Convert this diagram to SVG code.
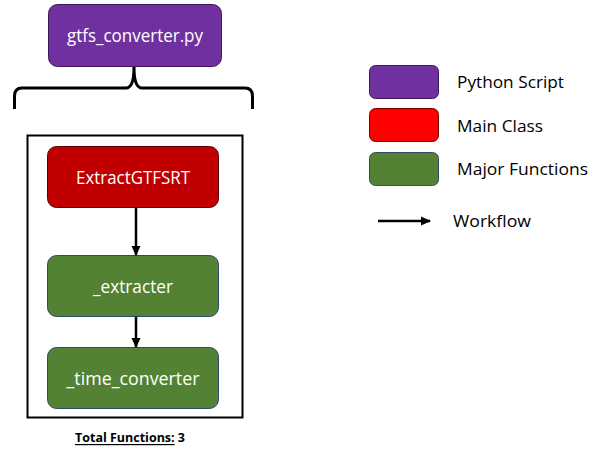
<svg xmlns="http://www.w3.org/2000/svg" width="599" height="452" viewBox="0 0 599 452">
<defs>
<style>
.lbl{font-family:"Open Sans","Liberation Sans",sans-serif;font-size:18px;fill:#ffffff;text-anchor:middle;dominant-baseline:central}
.leg{font-family:"Open Sans","Liberation Sans",sans-serif;font-size:17px;fill:#000000;dominant-baseline:central}
.purple{fill:#7030A0;stroke:#3b1a55;stroke-width:1}
.red{fill:#C00000;stroke:#5a0000;stroke-width:1}
.red2{fill:#FF0000;stroke:#7a0000;stroke-width:1}
.green{fill:#548235;stroke:#2f4a66;stroke-width:1}
.edge{stroke:#000;stroke-width:2.5;fill:none}
</style>
<marker id="ah" markerWidth="10" markerHeight="10" refX="9" refY="5" orient="auto" markerUnits="userSpaceOnUse">
<path d="M0,0.5 L10,5 L0,9.5 z" fill="#000"/>
</marker>
</defs>
<rect width="599" height="452" fill="#ffffff"/>
<g id="script">
<rect class="purple" x="48.5" y="4.5" width="173" height="62" rx="9"/>
<text class="lbl" x="135" y="35" textLength="136" lengthAdjust="spacingAndGlyphs">gtfs_converter.py</text>
</g>
<g id="brace">
<path d="M14.5,109 V96 Q14.5,88 22,88 H126 Q134,88 134,67 Q134,88 142,88 H245 Q252.5,88 252.5,96 V109" fill="none" stroke="#000" stroke-width="3"/>
</g>
<g id="container">
<rect x="27.5" y="135.5" width="215" height="282" fill="none" stroke="#000" stroke-width="2"/>
</g>
<g id="extractgtfsrt">
<rect class="red" x="47.5" y="146.5" width="171" height="61" rx="9"/>
<text class="lbl" x="133" y="177" textLength="114" lengthAdjust="spacingAndGlyphs">ExtractGTFSRT</text>
</g>
<g id="extracter">
<rect class="green" x="47.5" y="255.5" width="171" height="61" rx="9"/>
<text class="lbl" x="133" y="286" textLength="80" lengthAdjust="spacingAndGlyphs">_extracter</text>
</g>
<g id="time_converter">
<rect class="green" x="47.5" y="347.5" width="171" height="61" rx="9"/>
<text class="lbl" x="133" y="378" textLength="133" lengthAdjust="spacingAndGlyphs">_time_converter</text>
</g>
<g id="connectors">
<line class="edge" x1="136" y1="208" x2="136" y2="255" marker-end="url(#ah)"/>
<line class="edge" x1="136" y1="317" x2="136" y2="347" marker-end="url(#ah)"/>
</g>
<g id="total">
<text x="75" y="437" font-family="'Open Sans','Liberation Sans',sans-serif" font-size="12" font-weight="bold" fill="#000" dominant-baseline="central" textLength="110" lengthAdjust="spacingAndGlyphs"><tspan text-decoration="underline">Total Functions:</tspan> 3</text>
</g>
<g id="legend">
<rect class="purple" x="369.5" y="65.5" width="69" height="33" rx="6"/>
<text class="leg" x="457" y="81" textLength="107" lengthAdjust="spacingAndGlyphs">Python Script</text>
<rect class="red2" x="369.5" y="108.5" width="69" height="33" rx="6"/>
<text class="leg" x="457" y="125" textLength="86" lengthAdjust="spacingAndGlyphs">Main Class</text>
<rect class="green" x="369.5" y="152.5" width="69" height="33" rx="6"/>
<text class="leg" x="457" y="168" textLength="131" lengthAdjust="spacingAndGlyphs">Major Functions</text>
<line class="edge" x1="378" y1="221" x2="430" y2="221" marker-end="url(#ah)"/>
<text class="leg" x="453" y="220" textLength="78" lengthAdjust="spacingAndGlyphs">Workflow</text>
</g>
</svg>
